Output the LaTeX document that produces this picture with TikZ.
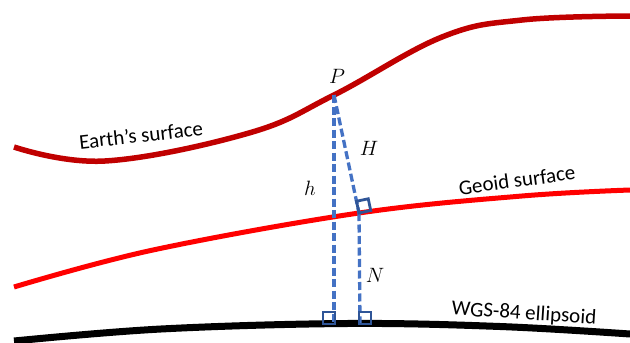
\documentclass[tikz,border=0pt]{standalone}
\usepackage{fontspec}
\setmainfont{Carlito}
\usetikzlibrary{calc}
\definecolor{earthred}{HTML}{C00000}
\definecolor{dblue}{HTML}{4472C4}
\definecolor{sqblue}{HTML}{2F5597}
\tikzset{
  earth/.style={draw=earthred, line width=5.5pt},
  geoid/.style={draw=red, line width=5pt},
  ellip/.style={draw=black, line width=7pt},
  dline/.style={draw=dblue, line width=3.3pt, dash pattern=on 8pt off 3.5pt},
  sqmark/.style={draw=sqblue, line width=2.8pt},
  lbl/.style={font=\fontsize{21}{25}\selectfont, inner sep=0pt},
  mlbl/.style={font=\fontsize{22}{26}\selectfont, inner sep=0pt}
}
\begin{document}
\begin{tikzpicture}[x=1pt, y=-1pt]
\useasboundingbox (0,0) rectangle (630,343);
% curves
\draw[earth] plot[smooth, tension=0.65] coordinates {(14,147) (105,161) (249,133) (334,95) (442,37) (522,20) (630,16)};
\coordinate (P) at (334,95);
\draw[geoid] plot[smooth, tension=0.6] coordinates {(14,287) (153,250) (359,213) (522,196) (630,190)};
\coordinate (G) at (359,213);
\draw[ellip] plot[smooth, tension=0.6] coordinates {(14,341) (161,329) (347,323.5) (500,326.5) (630,334)};
\coordinate (F1) at (334,323);
\coordinate (F2) at (360,323);
% dashed lines
\draw[dline] (P) -- (F1);
\draw[dline] (P) -- (G);
\draw[dline] (G) -- (F2);
% right-angle marks
\coordinate (Ga) at ($(G)!12pt!(P)$);
\coordinate (Gc) at ($(G)!12pt!-90:(P)$);
\draw[sqmark] (G) -- (Ga) -- ($(Ga)+(Gc)-(G)$) -- (Gc) -- cycle;
\draw[sqmark] (323,312) rectangle (335,324);
\draw[sqmark] (359,312) rectangle (371,324);
% labels
\node[mlbl] (lP) at (337,76) {$P$};
\node[mlbl] (lH) at (369,148) {$H$};
\node[mlbl] (lh) at (310,188) {$h$};
\node[mlbl] (lN) at (375,275) {$N$};
\node[lbl, rotate=6.4] (lE) at (141,135) {Earth’s surface};
\node[lbl, rotate=7.7] (lG) at (517,180) {Geoid surface};
\node[lbl, rotate=-3.7] (lW) at (524,314) {WGS-84 ellipsoid};
\end{tikzpicture}
\end{document}
